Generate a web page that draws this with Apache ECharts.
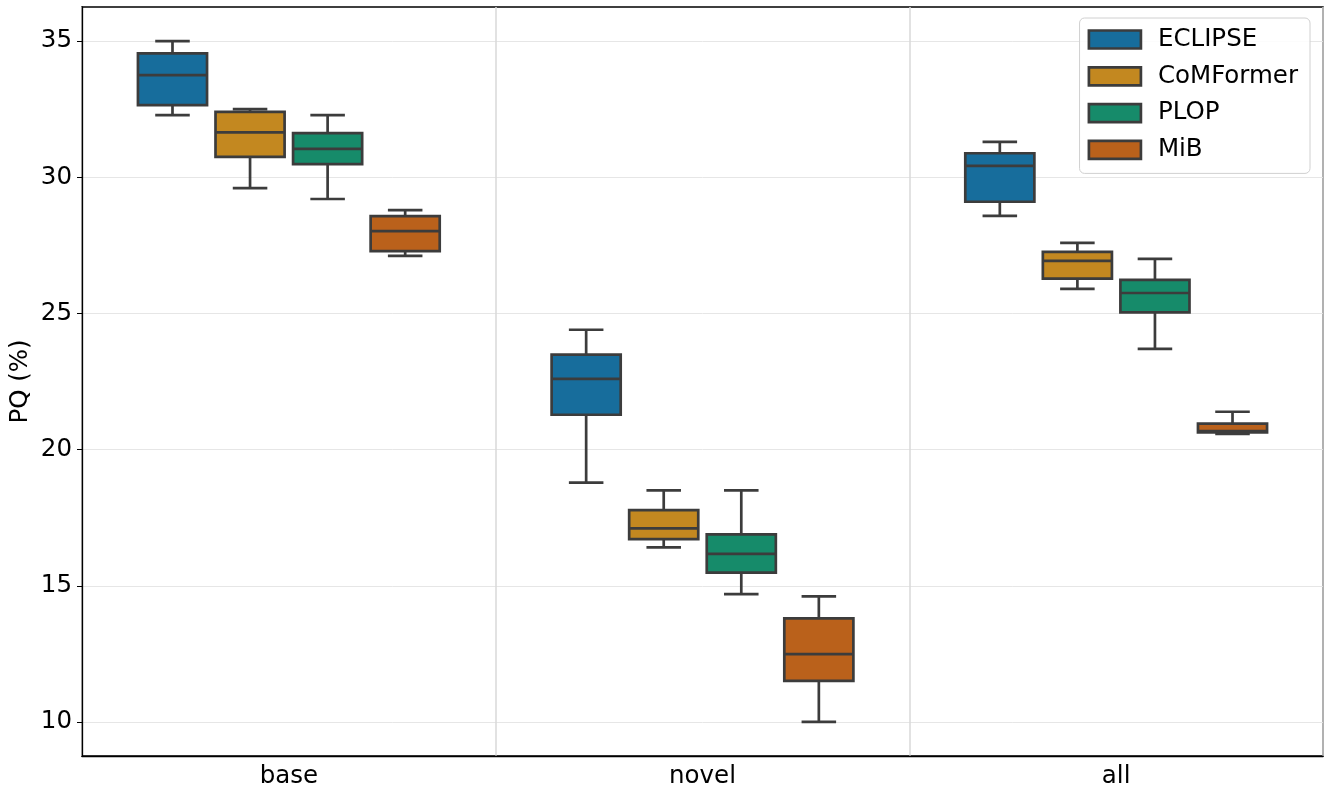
<!DOCTYPE html>
<html>
<head>
<meta charset="utf-8">
<script src="https://cdn.jsdelivr.net/npm/echarts@6/dist/echarts.min.js"></script>
<style>html,body{margin:0;padding:0;background:#fff;}#chart{width:1334px;height:795px;}</style>
</head>
<body>
<div id="chart"></div>
<script>
// Categories and tick labels
const categories = ['base', 'novel', 'all'];
const yTicks = [10, 15, 20, 25, 30, 35];
const methods = ['ECLIPSE', 'CoMFormer', 'PLOP', 'MiB'];
const colors = ['#176d9c', '#c38820', '#168b6a', '#ba611b'];

// Each entry per category: [lower whisker, Q1, median, Q3, upper whisker]
const eclipse   = [[32.28, 32.65, 33.75, 34.55, 35.00], [18.79, 21.28, 22.60, 23.49, 24.40], [28.58, 29.10, 30.42, 30.88, 31.30]];
const comformer = [[29.60, 30.75, 31.65, 32.40, 32.50], [16.41, 16.71, 17.11, 17.78, 18.50], [25.90, 26.28, 26.93, 27.26, 27.59]];
const plop      = [[29.20, 30.48, 31.04, 31.62, 32.28], [14.69, 15.48, 16.17, 16.89, 18.50], [23.70, 25.04, 25.75, 26.23, 27.00]];
const mib       = [[27.11, 27.29, 28.02, 28.57, 28.79], [10.00, 11.51, 12.49, 13.80, 14.61], [20.58, 20.63, 20.68, 20.95, 21.39]];
const seriesValues = [eclipse, comformer, plop, mib];

const edge = '#3c3c3c';
const font = 'DejaVu Sans';
const lw = 2.7;

function makeRender(hueIdx) {
  return function (params, api) {
    const cat = api.value(0);
    const band = api.size([1, 0])[0];
    const cx = api.coord([cat, 0])[0] + (hueIdx - 1.5) * 0.1875 * band;
    const w = 0.167 * band;
    const capW = w / 2;
    const y = i => api.coord([cat, api.value(i)])[1];
    const yLow = y(1), yQ1 = y(2), yMed = y(3), yQ3 = y(4), yHigh = y(5);
    const ls = { stroke: edge, lineWidth: lw };
    return {
      type: 'group',
      children: [
        { type: 'line', shape: { x1: cx, y1: yQ1, x2: cx, y2: yLow }, style: ls },
        { type: 'line', shape: { x1: cx, y1: yQ3, x2: cx, y2: yHigh }, style: ls },
        { type: 'line', shape: { x1: cx - capW / 2, y1: yLow, x2: cx + capW / 2, y2: yLow }, style: ls },
        { type: 'line', shape: { x1: cx - capW / 2, y1: yHigh, x2: cx + capW / 2, y2: yHigh }, style: ls },
        { type: 'rect', shape: { x: cx - w / 2, y: yQ3, width: w, height: yQ1 - yQ3 },
          style: { fill: colors[hueIdx], stroke: edge, lineWidth: lw } },
        { type: 'line', shape: { x1: cx - w / 2, y1: yMed, x2: cx + w / 2, y2: yMed }, style: ls }
      ]
    };
  };
}

const series = methods.map((name, h) => ({
  name: name,
  type: 'custom',
  renderItem: makeRender(h),
  itemStyle: { color: colors[h] },
  encode: { x: 0, y: [1, 2, 3, 4, 5] },
  data: seriesValues[h].map((v, c) => [c].concat(v)),
  z: 3
}));

const chart = echarts.init(document.getElementById('chart'));
chart.setOption({
  animation: false,
  backgroundColor: '#fff',
  grid: { left: 82, right: 11, top: 7, bottom: 39, show: true, borderColor: '#000', borderWidth: 1.5,
          containLabel: false, outerBoundsMode: 'none' },
  legend: {
    right: 24, top: 18,
    orient: 'vertical',
    icon: 'rect',
    itemWidth: 52, itemHeight: 18, itemGap: 11.8,
    padding: [9, 12, 11, 8],
    backgroundColor: 'rgba(255,255,255,0.85)',
    borderColor: '#d0d0d0', borderWidth: 1, borderRadius: 5,
    textStyle: { fontFamily: font, fontSize: 24.5, color: '#000', lineHeight: 24, padding: [0, 0, 0, 12] },
    data: methods.map((m, i) => ({ name: m, itemStyle: { color: colors[i], borderColor: edge, borderWidth: lw } }))
  },
  xAxis: {
    type: 'category',
    data: categories,
    boundaryGap: true,
    axisLine: { lineStyle: { color: '#000', width: 1.3 } },
    axisTick: { alignWithLabel: true, length: 5, lineStyle: { color: '#000', width: 1 } },
    axisLabel: { fontFamily: font, fontSize: 24.5, color: '#000', margin: 8 },
    splitLine: { show: true, lineStyle: { color: '#d8d8d8', width: 1.5 } }
  },
  yAxis: {
    type: 'value',
    min: 8.75, max: 36.25,
    name: 'PQ (%)',
    nameLocation: 'middle',
    nameGap: 49,
    nameMoveOverlap: false,
    nameTextStyle: { fontFamily: font, fontSize: 24.5, color: '#000' },
    axisLine: { show: true, lineStyle: { color: '#000', width: 1.3 } },
    axisTick: { show: true, length: 5, customValues: yTicks, lineStyle: { color: '#000', width: 1 } },
    axisLabel: { fontFamily: font, fontSize: 24.5, color: '#000', margin: 10, customValues: yTicks },
    splitLine: { show: true, lineStyle: { color: '#e6e6e6', width: 1 } }
  },
  series: series
});
</script>
</body>
</html>
